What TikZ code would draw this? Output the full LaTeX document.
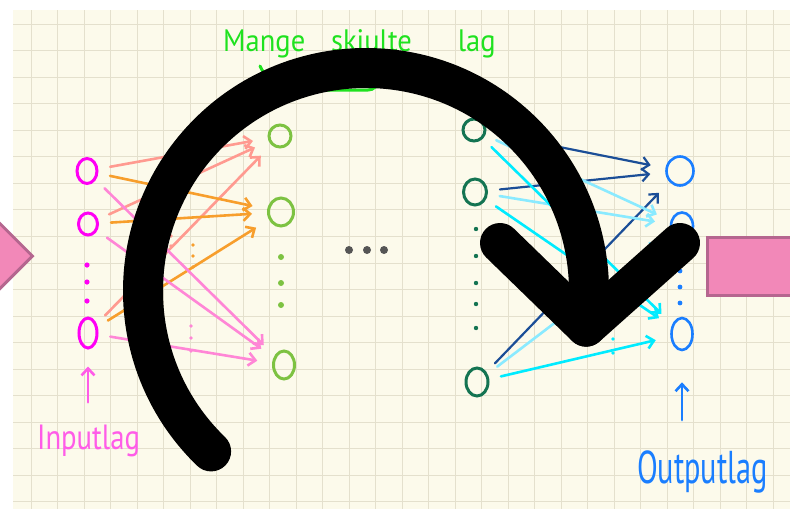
\documentclass[tikz,border=0pt]{standalone}
\usepackage{fontspec}
\setmainfont{PT Sans}
\usetikzlibrary{arrows.meta,shapes.geometric,calc}
\definecolor{paperCream}{HTML}{FCFAEB}
\definecolor{gridTan}{HTML}{E4E0CD}
\definecolor{inMagenta}{HTML}{FF00F5}
\definecolor{labelPink}{HTML}{FF5CE8}
\definecolor{hidGreen}{HTML}{7DC242}
\definecolor{braceGreen}{HTML}{1FE21F}
\definecolor{deepGreen}{HTML}{147452}
\definecolor{outBlue}{HTML}{1A7EFF}
\definecolor{lineSalmon}{HTML}{FF9A90}
\definecolor{lineOrange}{HTML}{F79E2C}
\definecolor{linePink}{HTML}{FF86D6}
\definecolor{lineNavy}{HTML}{1B4E97}
\definecolor{lineSky}{HTML}{8AEAFF}
\definecolor{lineCyan}{HTML}{00EBFF}
\definecolor{blockPink}{HTML}{F288B8}
\definecolor{blockEdge}{HTML}{B5668F}
\definecolor{dotGray}{HTML}{555555}

\begin{document}
\begin{tikzpicture}[x=1pt, y=-1pt, >={Straight Barb[length=7pt,width=13pt]},
          neuron/.style={draw, ellipse, line width=3pt, inner sep=0pt},
          link/.style={line width=2.6pt, line cap=round, ->, shorten <=12pt, shorten >=15pt},
          blk/.style={draw=blockEdge, fill=blockPink, line width=3pt, inner sep=0pt},
          hand/.style={inner sep=0pt, anchor=base west}]
        \useasboundingbox (0,0) rectangle (790,509);
        \fill[white] (0,0) rectangle (790,509);
        \fill[paperCream] (13,10) rectangle (790,509);
        \foreach \i in {0,...,28} { \draw[gridTan, line width=0.9pt] ({31+26.5*\i},10) -- ({31+26.5*\i},509); }
        \foreach \j in {0,...,18} { \draw[gridTan, line width=0.9pt] (13,{24+26.55*\j}) -- (790,{24+26.55*\j}); }
        \node[blk, diamond, minimum width=66pt, minimum height=66pt] (inblk) at (0,256) {};
        \node[blk, minimum width=110pt, minimum height=58pt] (outblk) at (762,266) {};
        \node[neuron, inMagenta, minimum width=20pt, minimum height=25pt] (in1) at (87,171) {};
        \node[neuron, inMagenta, minimum width=19pt, minimum height=22pt] (in2) at (88,224) {};
        \node[neuron, inMagenta, minimum width=18pt, minimum height=30pt] (in3) at (88,333) {};
        \node[neuron, hidGreen, minimum width=22pt, minimum height=22pt] (h1) at (280,136) {};
        \node[neuron, hidGreen, minimum width=25pt, minimum height=28pt] (h2) at (281,212) {};
        \node[neuron, hidGreen, minimum width=21pt, minimum height=28pt] (h3) at (284,365) {};
        \node[neuron, deepGreen, minimum width=22pt, minimum height=22pt] (hl1) at (474,130) {};
        \node[neuron, deepGreen, minimum width=23pt, minimum height=26pt] (hl2) at (475,192) {};
        \node[neuron, deepGreen, minimum width=22pt, minimum height=28pt] (hl3) at (477,382) {};
        \node[neuron, outBlue, line width=2.6pt, minimum width=27pt, minimum height=29pt] (o1) at (680,171) {};
        \node[neuron, outBlue, line width=2.6pt, minimum width=22pt, minimum height=27pt] (o2) at (682,226) {};
        \node[neuron, outBlue, line width=2.6pt, minimum width=21pt, minimum height=32pt] (o3) at (682,334) {};
        \foreach \y in {265,282,301} { \fill[inMagenta] (87,\y) circle[radius=2.6]; }
        \foreach \y in {257,283,305} { \fill[hidGreen] (281,\y) circle[radius=3]; }
        \foreach \y in {229,256,283,304,328} { \fill[deepGreen] (476,\y) circle[radius=2.2]; }
        \foreach \y in {271,287,303} { \fill[outBlue] (680,\y) circle[radius=2.4]; }
        \foreach \x in {349,367,384} { \fill[dotGray] (\x,250) circle[radius=4]; }
        \node[hand, font=\fontsize{35}{35}\selectfont, labelPink, xscale=0.82] (inlbl) at (37,449) {Inputlag};
        \node[hand, font=\fontsize{46}{46}\selectfont, outBlue, xscale=0.66] (outlbl) at (637,483) {Outputlag};
        \node[hand, font=\fontsize{31}{31}\selectfont, braceGreen, xscale=0.92] (hidlbl) at (223,51) {Mange\hspace{28pt}skjulte\hspace{50pt}lag};
        \draw[braceGreen, line width=3pt, line cap=round] (260,66) .. controls (268,84) and (285,90) .. (315,90) -- (368,90) .. controls (374,90) and (377,86) .. (379,80);
        \foreach \s in {in1,in2,in3} { \draw[link, lineSalmon] (\s) -- (h1); }
        \foreach \s in {in1,in2,in3} { \draw[link, lineOrange] (\s) -- (h2); }
        \foreach \s in {in1,in2,in3} { \draw[link, linePink] (\s) -- (h3); }
        \foreach \s in {hl1,hl2,hl3} { \draw[link, lineNavy, line width=2.2pt] (\s) -- (o1); }
        \foreach \s in {hl1,hl2,hl3} { \draw[link, lineSky] (\s) -- (o2); }
        \foreach \s in {hl1,hl2,hl3} { \draw[link, lineCyan] (\s) -- (o3); }
        \foreach \y in {245,256,267} { \fill[lineOrange] (193,\y) circle[radius=1.8]; }
        \foreach \y in {326,338,351} { \fill[linePink] (191,\y) circle[radius=1.8]; }
        \foreach \y in {236,246} { \fill[lineSalmon] (171,\y) circle[radius=1.8]; }
        \foreach \y in {326,339,353} { \fill[lineCyan] (613,\y) circle[radius=1.8]; }
        \draw[link, labelPink, shorten <=22pt, shorten >=17pt] (inlbl.north -| in3) -- (in3);
        \draw[link, outBlue, shorten <=30pt, shorten >=31pt] (outlbl.north -| o3) -- (o3);
        \coordinate (hub) at (366,291);
        \coordinate (tip) at ($(hub)+(9.2:223)$);
        \draw[line width=40pt, line cap=round, line join=round] ($(hub)+(134:223)$) arc[start angle=134, end angle=369.2, radius=223];
        \draw[line width=40pt, line cap=round, line join=round] (500,243) -- (tip) -- (680,243);
      \end{tikzpicture}
\end{document}
